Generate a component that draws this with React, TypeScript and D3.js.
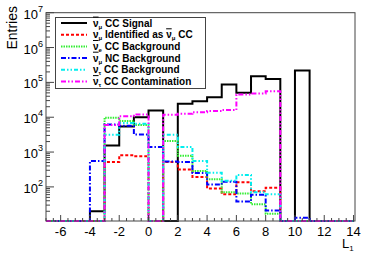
import React from "react";
import * as d3 from "d3";

// bin edges -7..14, 21 bins of width 1
const binEdges: number[] = d3.range(-7, 15, 1);

const signalNuMuBar: number[] = [0, 0, 0, 20, 1550, 5460, 10000, 15700, 0, 24400, 28900, 37700, 86900, 50400, 150000, 126000, 0, 219000, 0, 0, 0];
const nuMuMisId: number[] = [0, 0, 0, 0, 520, 810, 760, 0, 520, 315, 193, 90, 62, 135, 75, 94, 0, 0, 0, 0, 0];
const nuEBarCC: number[] = [0, 0, 0, 0, 9700, 7800, 6000, 0, 2060, 790, 287, 166, 70, 65, 32, 17, 0, 0, 0, 0, 0];
const nuMuBarNC: number[] = [0, 0, 0, 555, 6200, 5700, 3200, 1400, 540, 520, 250, 117, 140, 38, 60, 21, 0, 13, 0, 0, 0];
const nuTauCC: number[] = [0, 0, 0, 0, 3160, 6800, 6500, 0, 3160, 1400, 555, 255, 150, 220, 70, 62, 0, 0, 0, 0, 0];
const nuTauBarCC: number[] = [0, 0, 0, 0, 6000, 10700, 12000, 0, 11800, 12600, 14000, 15000, 16000, 45000, 48000, 56000, 0, 0, 0, 0, 0];

const xTicks: number[] = [-6, -4, -2, 0, 2, 4, 6, 8, 10, 12, 14];
const yExponents: number[] = [2, 3, 4, 5, 6, 7];

type Series = { name: string; values: number[]; color: string; dash: string; width: number };

const series: Series[] = [
  { name: "sig", values: signalNuMuBar, color: "#000000", dash: "", width: 2 },
  { name: "red", values: nuMuMisId, color: "#ff0000", dash: "3,2", width: 2 },
  { name: "green", values: nuEBarCC, color: "#33ee33", dash: "1.5,1", width: 2 },
  { name: "blue", values: nuMuBarNC, color: "#0000ff", dash: "5,2,1.5,2", width: 2 },
  { name: "cyan", values: nuTauCC, color: "#00eeee", dash: "4,2,1.5,2,1.5,2", width: 2 },
  { name: "magenta", values: nuTauBarCC, color: "#ff00ff", dash: "5,2,1.5,2,1.5,2", width: 2 },
];

const W = 374, H = 253;
const L = 46, R = 355, T = 12.7, B = 221;
const YMIN = 10.5, YMAX = 1e7;

export default function App() {
  const x = d3.scaleLinear().domain([-7, 14.1]).range([L, R]);
  const y = d3.scaleLog().domain([YMIN, YMAX]).range([B, T]);

  const line = d3
    .line<[number, number]>()
    .x((d) => x(d[0]))
    .y((d) => y(Math.max(d[1], YMIN)))
    .curve(d3.curveStepAfter);

  const pathFor = (vals: number[]) => {
    const pts: [number, number][] = vals.map((v, i) => [binEdges[i], v]);
    pts.push([binEdges[binEdges.length - 1], vals[vals.length - 1]]);
    return line(pts) || "";
  };

  const minorX = d3.range(-7, 14.01, 0.5).filter((v) => Math.abs(v % 2) > 1e-6);
  const minorY: number[] = [];
  for (let e = 1; e < 7; e++) {
    for (let m = 2; m <= 9; m++) {
      const v = m * Math.pow(10, e);
      if (v >= YMIN && v <= YMAX) minorY.push(v);
    }
  }

  const font = "Liberation Sans, Arial, Helvetica, sans-serif";

  const legendItems: { s: Series; label: React.ReactNode }[] = [
    {
      s: series[0],
      label: (
        <>
          <tspan textDecoration="overline">ν</tspan>
          <tspan fontSize={6} dy={2}>μ</tspan>
          <tspan dy={-2}> CC Signal</tspan>
        </>
      ),
    },
    {
      s: series[1],
      label: (
        <>
          <tspan>ν</tspan>
          <tspan fontSize={6} dy={2}>μ</tspan>
          <tspan dy={-2}> Identified as </tspan>
          <tspan textDecoration="overline">ν</tspan>
          <tspan fontSize={6} dy={2}>μ</tspan>
          <tspan dy={-2}> CC</tspan>
        </>
      ),
    },
    {
      s: series[2],
      label: (
        <>
          <tspan textDecoration="overline">ν</tspan>
          <tspan fontSize={6} dy={2}>e</tspan>
          <tspan dy={-2}> CC Background</tspan>
        </>
      ),
    },
    {
      s: series[3],
      label: (
        <>
          <tspan textDecoration="overline">ν</tspan>
          <tspan fontSize={6} dy={2}>μ</tspan>
          <tspan dy={-2}> NC Background</tspan>
        </>
      ),
    },
    {
      s: series[4],
      label: (
        <>
          <tspan>ν</tspan>
          <tspan fontSize={6} dy={2}>τ</tspan>
          <tspan dy={-2}> CC Background</tspan>
        </>
      ),
    },
    {
      s: series[5],
      label: (
        <>
          <tspan textDecoration="overline">ν</tspan>
          <tspan fontSize={6} dy={2}>τ</tspan>
          <tspan dy={-2}> CC Contamination</tspan>
        </>
      ),
    },
  ];

  return (
    <svg
      width={W}
      height={H}
      style={{ position: "absolute", left: 0, top: 0, background: "#fff" }}
      fontFamily={font}
    >
      <rect x={0} y={0} width={W} height={H} fill="#fff" />
      {/* histograms */}
      <g fill="none">
        {series.map((s) => (
          <path
            key={s.name}
            d={pathFor(s.values)}
            stroke={s.color}
            strokeWidth={s.width}
            strokeDasharray={s.dash || undefined}
          />
        ))}
      </g>
      {/* frame */}
      <rect x={L} y={T} width={R - L} height={B - T} fill="none" stroke="#444" strokeWidth={1} />
      {/* x ticks */}
      <g stroke="#444" strokeWidth={1}>
        {xTicks.map((t) => (
          <line key={"xt" + t} x1={x(t)} x2={x(t)} y1={B} y2={B - 6} />
        ))}
        {minorX.map((t) => (
          <line key={"xm" + t} x1={x(t)} x2={x(t)} y1={B} y2={B - 3} />
        ))}
        {yExponents.map((e) => (
          <line key={"yt" + e} x1={L} x2={L + 8} y1={y(Math.pow(10, e))} y2={y(Math.pow(10, e))} />
        ))}
        {minorY.map((v) => (
          <line key={"ym" + v} x1={L} x2={L + 4} y1={y(v)} y2={y(v)} />
        ))}
      </g>
      {/* x tick labels */}
      <g fontSize={13} textAnchor="middle" fill="#000">
        {xTicks.map((t) => (
          <text key={"xl" + t} x={x(t)} y={236}>
            {t < 0 ? "-" + Math.abs(t) : String(t)}
          </text>
        ))}
      </g>
      {/* y tick labels */}
      <g fontSize={13} textAnchor="end" fill="#000">
        {yExponents.map((e) => (
          <text key={"yl" + e} x={43} y={y(Math.pow(10, e)) + 6}>
            10<tspan fontSize={9} dy={-7}>{e}</tspan>
          </text>
        ))}
      </g>
      {/* axis titles */}
      <text x={0} y={0} fontSize={14} textAnchor="end" transform={`translate(17,6) rotate(-90)`}>
        Entries
      </text>
      <text x={342} y={248} fontSize={13}>
        L<tspan fontSize={8} dy={3}>1</tspan>
      </text>
      {/* legend */}
      <rect x={55.5} y={17.5} width={150} height={71} fill="#fff" stroke="#444" strokeWidth={1} />
      {legendItems.map((it, i) => {
        const yy = 23 + i * 11.7;
        return (
          <g key={"lg" + i}>
            <line
              x1={61}
              x2={87}
              y1={yy}
              y2={yy}
              stroke={it.s.color}
              strokeWidth={it.s.width}
              strokeDasharray={it.s.dash || undefined}
            />
            <text x={93} y={yy + 3.6} fontSize={10} fontWeight="bold" fill="#000">
              {it.label}
            </text>
          </g>
        );
      })}
    </svg>
  );
}
